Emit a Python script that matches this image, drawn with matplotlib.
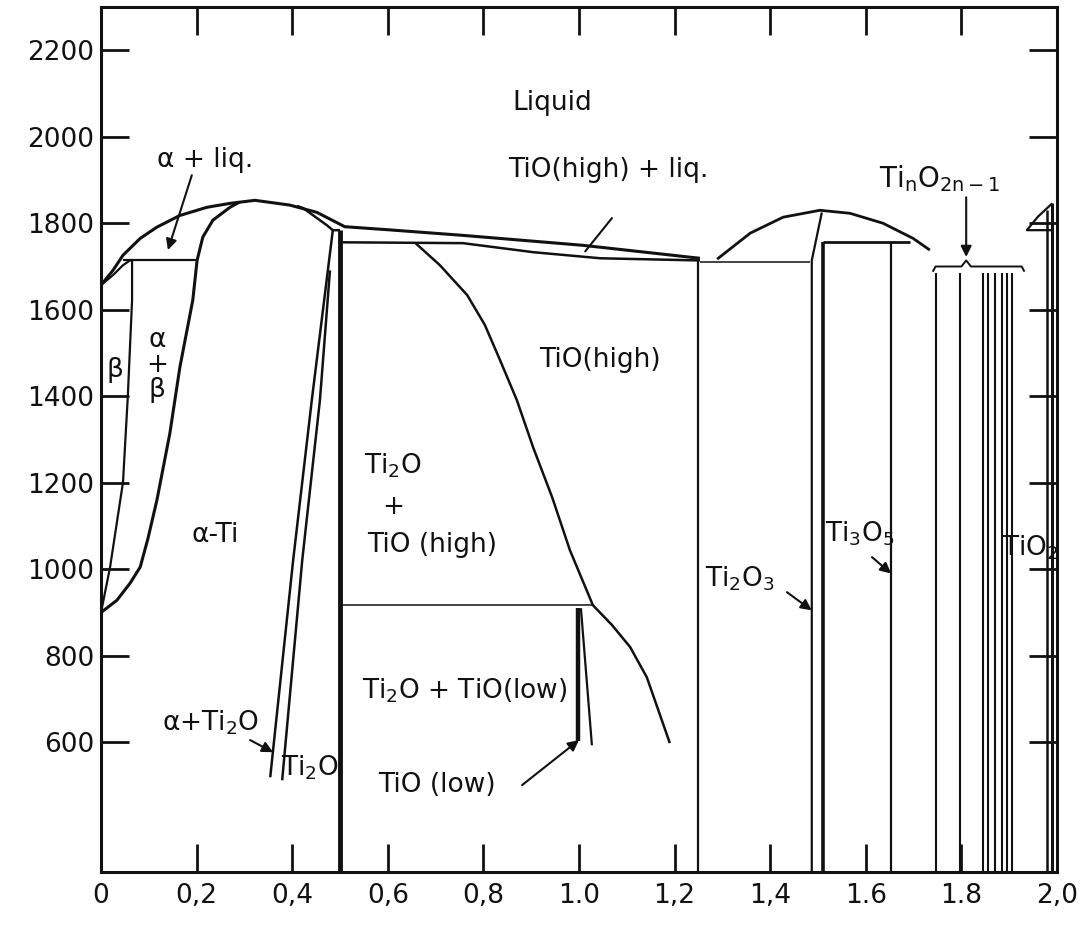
import matplotlib.pyplot as plt

# Ti-O phase diagram, x = O/Ti ratio, T in deg C
T_BOT = 300

# left dome liquidus, continued to the TiO / Ti2O3 eutectic
liq_x = [0.0, 0.025, 0.046, 0.082, 0.117, 0.165, 0.222, 0.27, 0.322, 0.395, 0.452, 0.51, 0.60, 0.757, 1.008, 1.253]
liq_T = [1657, 1691, 1726, 1765, 1791, 1818, 1837, 1846, 1853, 1842, 1825, 1792, 1785, 1772, 1749, 1719]

# beta solidus (small lens)
bsol_x = [0.0, 0.025, 0.046, 0.062]
bsol_T = [1657, 1680, 1703, 1715]

# beta transus
btr_x = [0.065, 0.065, 0.056, 0.046, 0.019, 0.0]
btr_T = [1715, 1622, 1398, 1201, 1005, 900]

# alpha / alpha+beta and alpha solidus (left side)
alp_x = [0.0, 0.033, 0.061, 0.082, 0.098, 0.117, 0.144, 0.165, 0.192, 0.201, 0.213, 0.234, 0.27, 0.29]
alp_T = [900, 928, 968, 1005, 1070, 1160, 1314, 1467, 1622, 1714, 1768, 1807, 1837, 1849]

# alpha solidus (right side)
asol_x = [0.41, 0.423, 0.473, 0.485, 0.50]
asol_T = [1840, 1835, 1795, 1784, 1784]

peri_x = [0.046, 0.201]
peri_T = [1715, 1715]

# Ti2O boundaries
ti2o_a_x = [0.485, 0.441, 0.402, 0.354]
ti2o_a_T = [1784, 1391, 1021, 519]
ti2o_b_x = [0.479, 0.458, 0.421, 0.379]
ti2o_b_T = [1691, 1391, 1021, 512]

# TiO(high) solidus / horizontal
tsol_x = [0.5, 0.757, 0.905, 1.045, 1.253]
tsol_T = [1756, 1754, 1733, 1719, 1714]

# TiO(high) left boundary
tio_x = [0.657, 0.709, 0.766, 0.803, 0.835, 0.870, 0.904, 0.944, 0.981, 1.029, 1.069, 1.107, 1.142, 1.19]
tio_T = [1755, 1703, 1634, 1565, 1483, 1391, 1282, 1166, 1044, 917, 871, 820, 750, 598]

eut_x = [0.5, 1.029]
eut_T = [917, 917]

# TiO(low)
tlow_l_x = [0.998, 0.998]
tlow_l_T = [910, 602]
tlow_r_x = [1.004, 1.027]
tlow_r_T = [910, 593]

# Ti2O3 region
ti2o3_hor_x = [1.253, 1.483]
ti2o3_hor_T = [1710, 1710]
dome_x = [1.289, 1.358, 1.427, 1.504, 1.567, 1.636, 1.699, 1.734]
dome_T = [1717, 1777, 1814, 1830, 1823, 1800, 1765, 1738]
ti2o3_r_x = [1.508, 1.487, 1.487]
ti2o3_r_T = [1825, 1714, T_BOT]
ti3o5_top_x = [1.510, 1.692]
ti3o5_top_T = [1756, 1756]

# vertical phase lines: (x, top T, linewidth)
vert_x = [0.5, 1.249, 1.510, 1.653, 1.979, 1.990]
vert_top = [1784, 1719, 1756, 1756, 1830, 1846]
vert_lw = [3.5, 1.6, 2.6, 1.6, 1.8, 2.2]

# Magneli phases Ti_nO_2n-1
magneli_x = [1.747, 1.797, 1.845, 1.856, 1.870, 1.885, 1.895, 1.906]
magneli_top = 1684

# TiO2 liquidus triangle
tio2_x = [1.990, 1.96, 1.937, 1.990]
tio2_T = [1846, 1815, 1784, 1784]

brace_x = [1.740, 1.746, 1.800, 1.810, 1.820, 1.926, 1.932]
brace_T = [1688, 1700, 1700, 1714, 1700, 1700, 1688]

xticks = [0, 0.2, 0.4, 0.6, 0.8, 1.0, 1.2, 1.4, 1.6, 1.8, 2.0]
xlabels = ['0', '0,2', '0,4', '0,6', '0,8', '1.0', '1,2', '1,4', '1.6', '1.8', '2,0']
yticks = [600, 800, 1000, 1200, 1400, 1600, 1800, 2000, 2200]

plt.rcParams['font.family'] = 'DejaVu Sans'
fig = plt.figure(figsize=(10.83, 9.31), dpi=100)
ax = fig.add_axes([101/1083, 59/931, 956/1083, 865/931])
k = '#111111'

def line(xs, ts, lw=2.0):
    ax.plot(xs, ts, color=k, lw=lw, solid_capstyle='butt', solid_joinstyle='round')

line(liq_x, liq_T, 2.2)
line(bsol_x, bsol_T, 1.6)
line(btr_x, btr_T, 1.6)
line(alp_x, alp_T, 2.2)
line(asol_x, asol_T, 1.8)
line(peri_x, peri_T, 1.6)
line(ti2o_a_x, ti2o_a_T, 1.8)
line(ti2o_b_x, ti2o_b_T, 1.8)
line(tsol_x, tsol_T, 1.8)
line(tio_x, tio_T, 1.8)
line(eut_x, eut_T, 1.1)
line(tlow_l_x, tlow_l_T, 3.2)
line(tlow_r_x, tlow_r_T, 1.6)
line(ti2o3_hor_x, ti2o3_hor_T, 1.1)
line(dome_x, dome_T, 2.0)
line(ti2o3_r_x, ti2o3_r_T, 1.6)
line(ti3o5_top_x, ti3o5_top_T, 2.0)
for xv, top, lw in zip(vert_x, vert_top, vert_lw):
    line([xv, xv], [top, T_BOT], lw)
for xv in magneli_x:
    line([xv, xv], [magneli_top, T_BOT], 1.5)
line(tio2_x, tio2_T, 1.6)
line(brace_x, brace_T, 1.4)

fs = 19
def label(x, t, s, **kw):
    ax.text(x, t, s, fontsize=kw.pop('fontsize', fs), ha='center', va='center', color=k, **kw)

def arrow(x0, t0, x1, t1, head=True):
    ax.annotate('', xy=(x1, t1), xytext=(x0, t0),
                arrowprops=dict(arrowstyle='-|>' if head else '-', color=k, lw=1.5,
                                mutation_scale=16, shrinkA=0, shrinkB=0))

label(0.944, 2077, 'Liquid')
label(0.218, 1946, 'α + liq.')
arrow(0.190, 1911, 0.140, 1738)
label(1.061, 1923, 'TiO(high) + liq.')
arrow(1.069, 1812, 1.013, 1735, head=False)
label(1.755, 1904, r'Ti$_\mathregular{n}$O$_\mathregular{2n-1}$', fontsize=20)
arrow(1.810, 1860, 1.810, 1722)
label(0.029, 1460, 'β')
label(0.117, 1472, 'α\n+\nβ', linespacing=0.95)
label(1.044, 1483, 'TiO(high)')
label(0.611, 1240, 'Ti$_2$O')
label(0.611, 1143, '+')
label(0.692, 1055, 'TiO (high)')
label(0.238, 1079, 'α-Ti')
label(0.762, 720, 'Ti$_2$O + TiO(low)')
label(0.228, 646, 'α+Ti$_2$O')
arrow(0.312, 605, 0.360, 577)
label(0.437, 540, 'Ti$_2$O')
label(0.703, 501, 'TiO (low)')
arrow(0.881, 501, 1.000, 605)
label(1.337, 979, 'Ti$_2$O$_3$')
arrow(1.435, 947, 1.487, 905)
label(1.588, 1083, 'Ti$_3$O$_5$')
arrow(1.613, 1028, 1.653, 990)
label(1.944, 1049, 'TiO$_2$')

ax.set_xlim(0, 2.0)
ax.set_ylim(T_BOT, 2300)
ax.set_xticks(xticks)
ax.set_xticklabels(xlabels)
ax.set_yticks(yticks)
ax.tick_params(direction='in', length=20, width=2, top=True, right=True,
               labelsize=19, pad=8, colors=k)
ax.tick_params(axis='y', pad=5)
for s in ax.spines.values():
    s.set_linewidth(2.2)
    s.set_color(k)

fig.savefig('out.png', dpi=100)
